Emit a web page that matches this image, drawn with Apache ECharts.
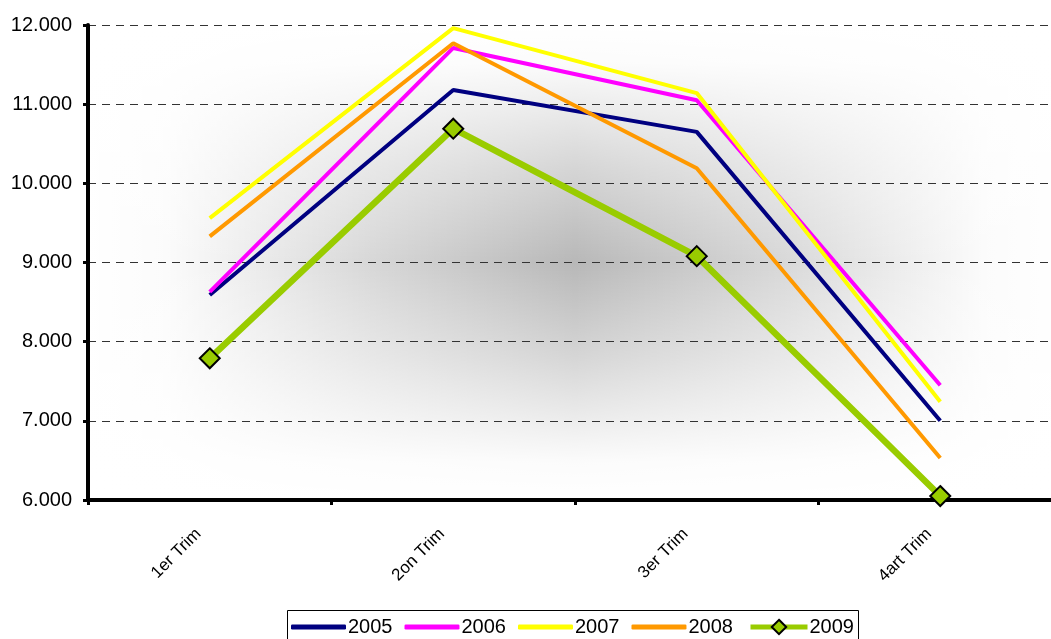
<!DOCTYPE html>
<html><head><meta charset="utf-8">
<script src="https://cdn.jsdelivr.net/npm/echarts@6/dist/echarts.min.js"></script>
<style>html,body{margin:0;padding:0;background:#fff}#c{width:1051px;height:639px}</style>
</head><body><div id="c"></div>
<script>
const categories = ['1er Trim', '2on Trim', '3er Trim', '4art Trim'];
const s2005 = [8590, 11180, 10650, 7000];
const s2006 = [8630, 11710, 11050, 7450];
const s2007 = [9560, 11960, 11140, 7240];
const s2008 = [9330, 11770, 10190, 6530];
const s2009 = [7790, 10690, 9080, 6050];
const yTicks = [6000, 7000, 8000, 9000, 10000, 11000, 12000];

const chart = echarts.init(document.getElementById('c'));
function fmt(v){ return String(v).replace(/\B(?=(\d{3})+(?!\d))/g, '.'); }
function line(name, data, color, w){
  return {name, type:'line', data, symbol:'none', lineStyle:{color, width:w}, itemStyle:{color}, z:2};
}
const gx = 88, gy = 25, gw = 974, gh = 475;
const fade = (dir) => ({type:'linear', x:0, y:0, x2:dir==='h'?1:0, y2:dir==='v'?1:0,
  colorStops:[{offset:0,color:'rgba(255,255,255,1)'},{offset:0.08,color:'rgba(255,255,255,0.95)'},
    {offset:0.3,color:'rgba(255,255,255,0.42)'},{offset:0.5,color:'rgba(255,255,255,0)'},
    {offset:0.7,color:'rgba(255,255,255,0.42)'},{offset:0.92,color:'rgba(255,255,255,0.95)'},
    {offset:1,color:'rgba(255,255,255,1)'}]});
chart.setOption({
  animation:false,
  textStyle:{fontFamily:'Liberation Sans, Arial, sans-serif'},
  graphic:[
    {type:'rect', z:-10, silent:true, shape:{x:gx, y:gy, width:gw, height:gh}, style:{fill:'#b8b8b8'}},
    {type:'rect', z:-9, silent:true, shape:{x:gx, y:gy, width:gw, height:gh}, style:{fill:fade('h')}},
    {type:'rect', z:-9, silent:true, shape:{x:gx, y:gy, width:gw, height:gh}, style:{fill:fade('v')}},
    {type:'rect', z:5, silent:true, shape:{x:287.5, y:610.5, width:571, height:40}, style:{fill:'none', stroke:'#000', lineWidth:1}}
  ],
  grid:{left:gx, top:gy, width:gw, height:gh, outerBoundsMode:'none', containLabel:false},
  legend:[
    {top:617, left:291, itemWidth:55, itemHeight:5, itemGap:12, icon:'roundRect', padding:0,
     textStyle:{fontSize:20, color:'#000', padding:[0,0,0,-3]},
     data:['2005','2006','2007','2008']},
    {top:617, left:748, itemWidth:57, itemHeight:18, padding:0,
     textStyle:{fontSize:20, color:'#000', padding:[0,0,0,-3]},
     data:[{name:'2009', lineStyle:{width:5}}]}
  ],
  xAxis:{type:'category', data:categories, boundaryGap:true,
    axisLine:{lineStyle:{color:'#000', width:4}},
    axisTick:{show:true, length:5, lineStyle:{color:'#000', width:3}},
    axisLabel:{rotate:45, fontSize:17, color:'#000', margin:20, padding:[0,16,0,0]}},
  yAxis:{type:'value', min:6000, max:12000, interval:1000,
    axisLine:{show:true, lineStyle:{color:'#000', width:4}},
    axisTick:{show:true, length:5, lineStyle:{color:'#000', width:3}},
    axisLabel:{fontSize:20, color:'#000', margin:16, formatter:fmt},
    splitLine:{show:true, lineStyle:{color:'#333', width:1, type:[8,6]}}},
  series:[
    line('2005', s2005, '#000080', 4),
    line('2006', s2006, '#ff00ff', 4),
    line('2007', s2007, '#ffff00', 4),
    line('2008', s2008, '#ff9900', 4),
    {name:'2009', type:'line', data:s2009, symbol:'diamond', symbolSize:20,
      lineStyle:{color:'#99cc00', width:6.5}, itemStyle:{color:'#99cc00', borderColor:'#000', borderWidth:2}, z:3}
  ]
});
</script></body></html>
